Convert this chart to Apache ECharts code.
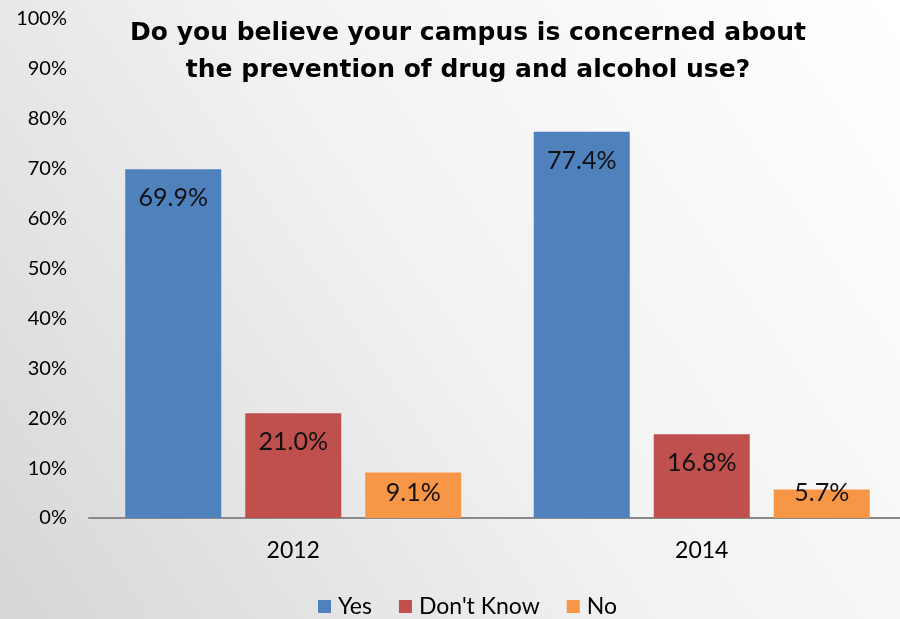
<!DOCTYPE html>
<html><head><meta charset="utf-8">
<script src="https://cdn.jsdelivr.net/npm/echarts@6/dist/echarts.min.js"></script>
<style>html,body{margin:0;padding:0;}#c{width:900px;height:619px;}</style>
</head><body><div id="c"></div>
<script>
const categories = ['2012', '2014'];
const yesValues = [69.9, 77.4];
const dontKnowValues = [21.0, 16.8];
const noValues = [9.1, 5.7];
const seriesNames = ['Yes', "Don't Know", 'No'];
const colors = ['#4F81BD', '#C0504D', '#F79646'];
const labelFont = 'Lato, "Noto Sans", sans-serif';

const gridTop = 19, gridBottom = 101, chartH = 619;
const pxPerUnit = (chartH - gridTop - gridBottom) / 100;
const labelSize = 25;

const chart = echarts.init(document.getElementById('c'));
function mk(name, values, color) {
  return {
    name, type: 'bar', barWidth: 96, barGap: '25%',
    itemStyle: { color },
    data: values.map(v => {
      const barPx = v * pxPerUnit;
      const centerOffset = Math.min(29, barPx - 25);
      return { value: v, label: { distance: centerOffset - labelSize / 2 } };
    }),
    label: { show: true, position: 'insideTop', color: '#111', fontSize: labelSize, fontFamily: labelFont,
      formatter: p => p.value.toFixed(1) + '%' }
  };
}
chart.setOption({
  backgroundColor: new echarts.graphic.LinearGradient(0, 1, 1, 0, [
    { offset: 0, color: '#d6d6d6' }, { offset: 0.5, color: '#f2f2f2' }, { offset: 1, color: '#ffffff' }
  ]),
  title: {
    text: 'Do you believe your campus is concerned about\nthe prevention of drug and alcohol use?',
    left: 463, top: 10, textAlign: 'center',
    textStyle: { fontFamily: '"DejaVu Sans", sans-serif', fontWeight: 'bold', fontSize: 25, lineHeight: 37, color: '#000' }
  },
  legend: {
    bottom: -4, left: 313, itemWidth: 13, itemHeight: 13, itemGap: 27, icon: 'rect',
    textStyle: { fontSize: 23, fontFamily: labelFont, color: '#000', padding: [0, 0, 0, 2] },
    data: seriesNames
  },
  grid: { left: 89, right: -6, top: gridTop, bottom: gridBottom, containLabel: false, outerBoundsMode: 'none' },
  xAxis: {
    type: 'category', data: categories,
    axisLine: { lineStyle: { color: '#898989', width: 2 } },
    axisTick: { show: false },
    axisLabel: { fontSize: 23, fontFamily: labelFont, color: '#000', margin: 21 }
  },
  yAxis: {
    type: 'value', min: 0, max: 100, interval: 10,
    splitLine: { show: false },
    axisLine: { show: false }, axisTick: { show: false },
    axisLabel: { formatter: '{value}%', fontSize: 20, fontFamily: labelFont, color: '#000', margin: 22 }
  },
  series: [
    mk(seriesNames[0], yesValues, colors[0]),
    mk(seriesNames[1], dontKnowValues, colors[1]),
    mk(seriesNames[2], noValues, colors[2])
  ]
});
</script></body></html>
